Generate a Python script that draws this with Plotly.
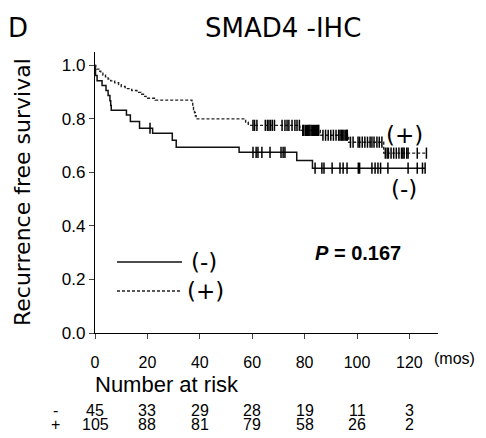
import numpy as np
import plotly.graph_objects as go

# number at risk table
months = [0, 20, 40, 60, 80, 100, 120]
neg_risk = [45, 33, 29, 28, 19, 11, 3]
pos_risk = [105, 88, 81, 79, 58, 26, 2]

# SMAD4 (-) : step times / survival / censored times
neg_time = [0, 0.1, 0.2, 0.8, 2.7, 4.2, 5.0, 5.7, 6.0, 6.2, 12, 13.5, 17, 22,
            29.5, 31, 55, 77, 83, 126]
neg_surv = [1.0, 0.981, 0.962, 0.943, 0.925, 0.906, 0.887, 0.868, 0.850, 0.832,
            0.815, 0.790, 0.765, 0.746, 0.720, 0.694, 0.675, 0.645, 0.616, 0.616]
neg_cens = [21, 60.3, 61.5, 62.2, 63.7, 66.8, 71, 71.8, 72.5, 84, 86.6, 87.4,
            90.5, 93.5, 94.7, 96.2, 100.5, 101, 105.7, 106.9, 108, 109, 111.8,
            119.5, 123, 125, 126]

# SMAD4 (+)
pos_time = [0, 0.3, 0.6, 1.5, 2.2, 3, 4, 5, 6, 7.5, 9, 10, 11.5, 14, 16, 17.5,
            18.5, 19.5, 23, 37, 37.3, 37.6, 38, 38.3, 38.6, 57.5, 58.5, 78.2,
            78.6, 86, 86.2, 96.8, 110.2, 126.5]
pos_surv = [1.0, 0.993, 0.986, 0.978, 0.971, 0.964, 0.957, 0.949, 0.942, 0.935,
            0.928, 0.921, 0.913, 0.906, 0.899, 0.892, 0.884, 0.877, 0.870, 0.858,
            0.847, 0.835, 0.823, 0.812, 0.800, 0.788, 0.776, 0.766, 0.757, 0.748,
            0.739, 0.713, 0.672, 0.672]
pos_cens = [60.3, 60.9, 61.8, 65, 65.8, 66.4, 67, 67.7, 68.5, 71.4, 72.5, 73.3,
            74, 75.2, 76.3, 77.1, 78, 79.3, 79.7, 80.3, 80.7, 81.2, 81.6, 82,
            82.5, 83, 83.4, 83.8, 84.2, 84.6, 85, 85.4, 87, 88, 89, 90, 91, 92,
            93, 93.5, 94, 94.5, 95, 95.5, 96, 96.3, 97.5, 98.5, 100.4, 101, 102,
            103, 104, 105, 105.7, 106.5, 107.6, 108.5, 109.5, 110.8, 111.5, 112,
            113, 114, 115, 116, 117, 117.5, 118, 119, 119.5, 123, 126.5]


def surv_at(times, surv, c):
    idx = np.searchsorted(times, c, side='right') - 1
    return np.array(surv)[idx]


# figure is 478x430 (page body has an 8px margin); plot box in figure pixels
W, H = 478, 430
L, R, T, B = 87, 430, 44, 325


def px(x):
    return (x - L) / (R - L)


def py(y):
    return (B - y) / (B - T)


fig = go.Figure()
fig.add_trace(go.Scatter(x=neg_time, y=neg_surv, mode='lines', line_shape='hv',
                         line=dict(color='#111111', width=1.5)))
fig.add_trace(go.Scatter(x=pos_time, y=pos_surv, mode='lines', line_shape='hv',
                         line=dict(color='#222222', width=1.4, dash='3px,2px')))
for cens, t, s in [(neg_cens, neg_time, neg_surv), (pos_cens, pos_time, pos_surv)]:
    fig.add_trace(go.Scatter(x=cens, y=surv_at(t, s, cens), mode='markers',
                             marker=dict(symbol='line-ns', size=8,
                                         line=dict(color='black', width=1.5))))

arial = 'Liberation Sans, Arial'
tah = 'DejaVu Sans'
ann = [
    dict(x=px(10), y=py(20), text='D', font=dict(family=tah, size=26)),
    dict(x=px(275), y=py(20), text='SMAD4 -IHC', font=dict(family=tah, size=26)),
    dict(x=px(14), y=py(184), text='Recurrence free survival', textangle=-90,
         font=dict(family=tah, size=22)),
    dict(x=px(396), y=py(127), text='(+)', font=dict(family=tah, size=23)),
    dict(x=px(396), y=py(181), text='(-)', font=dict(family=tah, size=23)),
    dict(x=px(350), y=py(245), text='<b><i>P</i> = 0.167</b>', font=dict(family=arial, size=20)),
    dict(x=px(196), y=py(254), text='(-)', font=dict(family=tah, size=23)),
    dict(x=px(197), y=py(283), text='(+)', font=dict(family=tah, size=23)),
    dict(x=px(447), y=py(350), text='(mos)', font=dict(family=arial, size=16)),
    dict(x=px(159), y=py(376), text='Number at risk', font=dict(family=arial, size=22)),
    dict(x=px(47), y=py(402), text='-', font=dict(family=arial, size=16)),
    dict(x=px(47), y=py(416), text='+', font=dict(family=arial, size=16)),
]
for m, a, b in zip(months, neg_risk, pos_risk):
    ann.append(dict(x=m, xref='x', y=py(402), text=str(a), font=dict(family=arial, size=16)))
    ann.append(dict(x=m, xref='x', y=py(416), text=str(b), font=dict(family=arial, size=16)))
for a in ann:
    a.setdefault('xref', 'paper')
    a.update(yref='paper', showarrow=False, xanchor='center', yanchor='middle')

shapes = [
    dict(type='line', xref='paper', yref='paper', x0=px(109), x1=px(174), y0=py(254), y1=py(254),
         line=dict(color='#111111', width=1.5)),
    dict(type='line', xref='paper', yref='paper', x0=px(109), x1=px(174), y0=py(283), y1=py(283),
         line=dict(color='#222222', width=1.4, dash='3px,2px')),
]

fig.update_layout(
    width=W, height=H,
    margin=dict(l=L, r=W - R, t=T, b=H - B),
    paper_bgcolor='white', plot_bgcolor='white',
    showlegend=False,
    annotations=ann, shapes=shapes,
    font=dict(family=arial, color='black'),
)
fig.update_xaxes(range=[0, (R - L) / 2.62], tickvals=months, ticks='outside', ticklen=5,
                 showline=True, linecolor='black', linewidth=1.3, showgrid=False, zeroline=False,
                 tickfont=dict(family=arial, size=16), ticklabelstandoff=10)
fig.update_yaxes(range=[0, 1.05], tickvals=[0, 0.2, 0.4, 0.6, 0.8, 1.0], tickformat='.1f',
                 ticks='outside', ticklen=5, showline=True, linecolor='black', linewidth=1.3,
                 showgrid=False, zeroline=False, tickfont=dict(family=arial, size=17))

fig.write_html("out.html")
